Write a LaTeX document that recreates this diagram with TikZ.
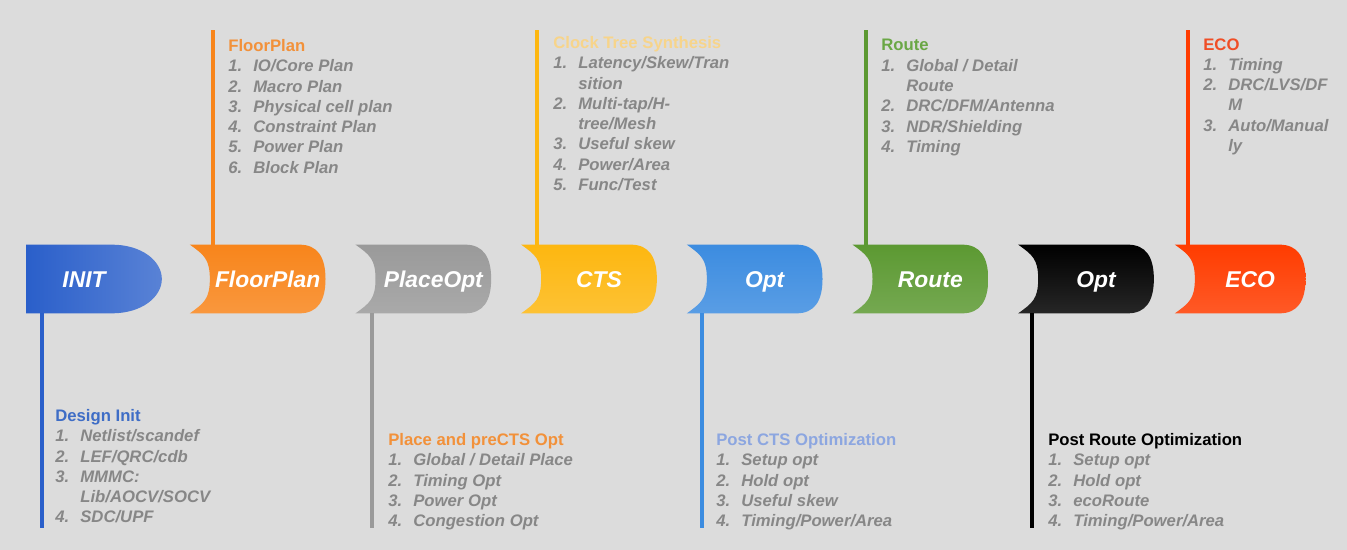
\documentclass[tikz,border=0pt]{standalone}
\usepackage{fontspec}
\setmainfont{Liberation Sans}
\usetikzlibrary{
  positioning,
  calc,
  backgrounds
}
\definecolor{flBack}{HTML}{DCDCDC}
\definecolor{flInit}{HTML}{2A5FCA}
\definecolor{flFloor}{HTML}{F8851B}
\definecolor{flPlace}{HTML}{9A9A9A}
\definecolor{flCTS}{HTML}{FDB710}
\definecolor{flOpt}{HTML}{3C8CE0}
\definecolor{flRoute}{HTML}{5C9932}
\definecolor{flPost}{HTML}{000000}
\definecolor{flECO}{HTML}{FF3C00}
\definecolor{flItem}{HTML}{878787}
\definecolor{flHdInit}{HTML}{3E6DC6}
\definecolor{flHdFloor}{HTML}{F2913A}
\definecolor{flHdCTS}{HTML}{F7D48A}
\definecolor{flHdOpt}{HTML}{8CA6E0}
\definecolor{flHdRoute}{HTML}{6AA745}
\definecolor{flHdECO}{HTML}{F04E26}
\tikzset{
  stage/.style={
    minimum width=2.3cm, minimum height=1.36cm, inner sep=0pt,
    text height=9.3pt, text depth=0pt,
    text=white, font=\fontsize{13}{15}\selectfont\bfseries\itshape
  },
  listbox/.style={
    anchor=north west, inner sep=0pt, align=left, text=flItem,
    font=\fontsize{9.5}{11.55}\selectfont\bfseries\itshape
  },
  stepline/.style={line width=2.2pt}
}
\newcommand{\stagehead}[2]{{\upshape\color{#1}#2}}
\newcommand{\stepitem}[2]{\makebox[0.5cm][l]{#1}#2}
\newcommand{\stepcont}[1]{\hspace*{0.5cm}#1}
\newcommand{\stageshape}[2]{%
  \shade[top color=#2, bottom color=#2!85!white]
    ($(#1.north west)+(-20,0)$) .. controls +(14,10) and +(0,-20) .. (#1.west)
    .. controls +(0,20) and +(14,-10) .. ($(#1.south west)+(-20,0)$)
    -- ($(#1.south east)+(-26,0)$) .. controls +(18,0) and +(0,22) .. (#1.east)
    .. controls +(0,-22) and +(18,0) .. ($(#1.north east)+(-26,0)$) -- cycle;}

\begin{document}
\begin{tikzpicture}[x=0.02cm, y=-0.02cm, node distance=1cm]
  % stages
  \node[stage] (init) at (84,279) {INIT};
  \node[stage, right=1.36cm of init] (fp) {FloorPlan};
  \node[stage, right=of fp] (place) {PlaceOpt};
  \node[stage, right=of place] (cts) {CTS};
  \node[stage, right=of cts] (opt) {Opt};
  \node[stage, right=of opt] (route) {Route};
  \node[stage, right=of route] (post) {Opt};
  \node[stage, right=0.82cm of post, minimum width=2.2cm] (eco) {ECO};

  % lists
  \node[listbox] (initList) at (55,409) {\stagehead{flHdInit}{Design Init}\\
    \stepitem{1.}{Netlist/scandef}\\ \stepitem{2.}{LEF/QRC/cdb}\\
    \stepitem{3.}{MMMC:}\\ \stepcont{Lib/AOCV/SOCV}\\ \stepitem{4.}{SDC/UPF}};
  \node[listbox] (fpList) at (228,39) {\stagehead{flHdFloor}{FloorPlan}\\
    \stepitem{1.}{IO/Core Plan}\\ \stepitem{2.}{Macro Plan}\\
    \stepitem{3.}{Physical cell plan}\\ \stepitem{4.}{Constraint Plan}\\
    \stepitem{5.}{Power Plan}\\ \stepitem{6.}{Block Plan}};
  \node[listbox] (placeList) at (388,433) {\stagehead{flHdFloor}{Place and preCTS Opt}\\
    \stepitem{1.}{Global / Detail Place}\\ \stepitem{2.}{Timing Opt}\\
    \stepitem{3.}{Power Opt}\\ \stepitem{4.}{Congestion Opt}};
  \node[listbox] (ctsList) at (553,36) {\stagehead{flHdCTS}{Clock Tree Synthesis}\\
    \stepitem{1.}{Latency/Skew/Tran}\\ \stepcont{sition}\\
    \stepitem{2.}{Multi-tap/H-}\\ \stepcont{tree/Mesh}\\
    \stepitem{3.}{Useful skew}\\ \stepitem{4.}{Power/Area}\\ \stepitem{5.}{Func/Test}};
  \node[listbox] (optList) at (716,433) {\stagehead{flHdOpt}{Post CTS Optimization}\\
    \stepitem{1.}{Setup opt}\\ \stepitem{2.}{Hold opt}\\
    \stepitem{3.}{Useful skew}\\ \stepitem{4.}{Timing/Power/Area}};
  \node[listbox] (routeList) at (881,39) {\stagehead{flHdRoute}{Route}\\
    \stepitem{1.}{Global / Detail}\\ \stepcont{Route}\\
    \stepitem{2.}{DRC/DFM/Antenna}\\ \stepitem{3.}{NDR/Shielding}\\ \stepitem{4.}{Timing}};
  \node[listbox] (postList) at (1048,433) {\stagehead{black}{Post Route Optimization}\\
    \stepitem{1.}{Setup opt}\\ \stepitem{2.}{Hold opt}\\
    \stepitem{3.}{ecoRoute}\\ \stepitem{4.}{Timing/Power/Area}};
  \node[listbox] (ecoList) at (1203,38) {\stagehead{flHdECO}{ECO}\\
    \stepitem{1.}{Timing}\\ \stepitem{2.}{DRC/LVS/DF}\\ \stepcont{M}\\
    \stepitem{3.}{Auto/Manual}\\ \stepcont{ly}};

  % stems
  \coordinate (initEnd) at (42,528);
  \coordinate (fpEnd) at (213,30);
  \coordinate (placeEnd) at (372,528);
  \coordinate (ctsEnd) at (537,30);
  \coordinate (optEnd) at (702,528);
  \coordinate (routeEnd) at (866,30);
  \coordinate (postEnd) at (1032,528);
  \coordinate (ecoEnd) at (1188,30);
  \draw[stepline, flInit] (initEnd |- init.south) -- (initEnd);
  \draw[stepline, flFloor] (fpEnd |- fp.north) -- (fpEnd);
  \draw[stepline, flPlace] (placeEnd |- place.south) -- (placeEnd);
  \draw[stepline, flCTS] (ctsEnd |- cts.north) -- (ctsEnd);
  \draw[stepline, flOpt] (optEnd |- opt.south) -- (optEnd);
  \draw[stepline, flRoute] (routeEnd |- route.north) -- (routeEnd);
  \draw[stepline, flPost] (postEnd |- post.south) -- (postEnd);
  \draw[stepline, flECO] (ecoEnd |- eco.north) -- (ecoEnd);

  \begin{scope}[on background layer]
    \fill[flBack] (0,0) rectangle (1347,550);
    \shade[left color=flInit, right color=flInit!78!white]
      (init.north west) -- ($(init.north east)+(-30,0)$)
      .. controls +(30,0) and +(0,-18) .. ($(init.east)+(20,0)$)
      .. controls +(0,18) and +(30,0) .. ($(init.south east)+(-30,0)$)
      -- (init.south west) -- cycle;
    \stageshape{fp}{flFloor}
    \stageshape{place}{flPlace}
    \stageshape{cts}{flCTS}
    \stageshape{opt}{flOpt}
    \stageshape{route}{flRoute}
    \stageshape{post}{flPost}
    \stageshape{eco}{flECO}
  \end{scope}
\end{tikzpicture}
\end{document}
